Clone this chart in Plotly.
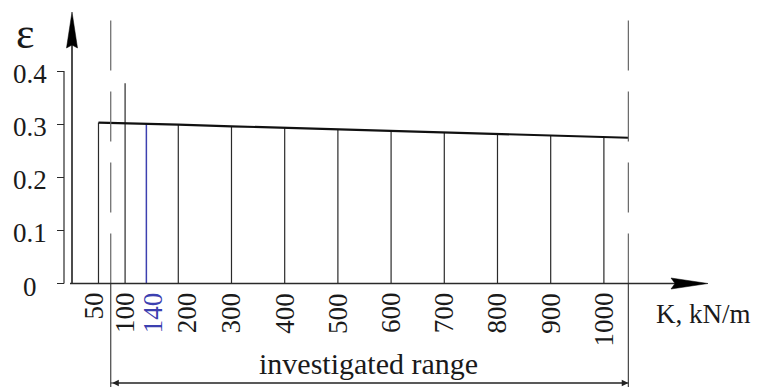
import plotly.graph_objects as go

# ---------------- data ----------------
K_vals = [50, 100, 140, 200, 300, 400, 500, 600, 700, 800, 900, 1000]
eps_vals = [0.303, 0.302, 0.301, 0.299, 0.296, 0.293, 0.290, 0.288, 0.285, 0.282, 0.279, 0.276]
K_end = 1046            # right end of the curve (upper bound of investigated range)
eps_end = 0.2745
K_highlight = 140       # blue line
K_tall = 100            # line drawn above the curve
eps_tall = 0.377
range_bounds = [73, 1046]   # investigated range borders
x_tick_labels = ["50", "100", "140", "200", "300", "400", "500", "600", "700", "800", "900", "1000"]
y_ticks = [0, 0.1, 0.2, 0.3, 0.4]
y_tick_labels = ["0", "0.1", "0.2", "0.3", "0.4"]

# ---------------- layout constants ----------------
OFF = 8                      # page body margin
W, H = 762 - OFF, 387 - OFF
X_RANGE = [-120.1, 1297.2]
Y_RANGE = [-0.1949, 0.5188]
Y_TOP_DASH = 0.509
Y_RANGE_ARROW = -0.1874
FONT = "Liberation Serif"
INK = "#1a1a1a"
BLUE = "#3c40b0"
LABEL_NUDGE = {"50": -4, "140": 7, "200": 9}   # pixel nudges of crowded tick labels


def px(x):
    return (x - OFF) / W


def py(y):
    return 1 - (y - OFF) / H


fig = go.Figure()

# vertical stems
sx, sy = [], []
for k, e in zip(K_vals, eps_vals):
    if k == K_highlight:
        continue
    top = eps_tall if k == K_tall else e
    sx += [k, k, None]
    sy += [0, top, None]
fig.add_trace(go.Scatter(x=sx, y=sy, mode="lines", line=dict(color="#2a2a2a", width=1.2),
                         hoverinfo="skip", showlegend=False))
hi = K_vals.index(K_highlight)
fig.add_trace(go.Scatter(x=[K_highlight, K_highlight], y=[0, eps_vals[hi]], mode="lines",
                         line=dict(color=BLUE, width=1.5), hoverinfo="skip", showlegend=False))

# curve
fig.add_trace(go.Scatter(x=K_vals + [K_end], y=eps_vals + [eps_end], mode="lines",
                         line=dict(color="#111111", width=2.2), hoverinfo="skip", showlegend=False))

# dashed range borders above the axis, solid below
dx, dy, bx, by = [], [], [], []
for b in range_bounds:
    dx += [b, b, None]
    dy += [0, Y_TOP_DASH, None]
    bx += [b, b, None]
    by += [0, Y_RANGE[0], None]
fig.add_trace(go.Scatter(x=dx, y=dy, mode="lines", line=dict(color="#666666", width=1.2, dash="50px,21px"),
                         hoverinfo="skip", showlegend=False))
fig.add_trace(go.Scatter(x=bx, y=by, mode="lines", line=dict(color="#444444", width=1.2),
                         hoverinfo="skip", showlegend=False))

shapes = []
# y axis line with ticks (0..0.4)
shapes.append(dict(type="line", xref="paper", yref="y", x0=px(64), x1=px(64), y0=0, y1=y_ticks[-1],
                   line=dict(color="#2a2a2a", width=1.2)))
# y arrow
shapes.append(dict(type="line", xref="paper", yref="paper", x0=px(72), x1=px(72), y0=py(284), y1=py(40),
                   line=dict(color="#111111", width=1.5)))
shapes.append(dict(type="path", xref="paper", yref="paper",
                   path=f"M {px(72)},{py(12)} L {px(77.5)},{py(48)} L {px(72)},{py(45)} L {px(66.5)},{py(48)} Z",
                   fillcolor="#000000", line=dict(color="#000000", width=0.5)))
# x axis line and arrow
shapes.append(dict(type="line", xref="paper", yref="paper", x0=px(70), x1=px(680), y0=py(283.5), y1=py(283.5),
                   line=dict(color="#2a2a2a", width=1.5)))
shapes.append(dict(type="path", xref="paper", yref="paper",
                   path=f"M {px(708)},{py(283.5)} L {px(671)},{py(278)} L {px(675)},{py(283.5)} L {px(671)},{py(289)} Z",
                   fillcolor="#000000", line=dict(color="#000000", width=0.5)))
# investigated range line
shapes.append(dict(type="line", xref="x", yref="y", x0=range_bounds[0], x1=range_bounds[1],
                   y0=Y_RANGE_ARROW, y1=Y_RANGE_ARROW, line=dict(color="#222222", width=1.2)))

annotations = [
    dict(x=range_bounds[1], y=Y_RANGE_ARROW, ax=range_bounds[0], ay=Y_RANGE_ARROW, axref="x", ayref="y",
         xref="x", yref="y", text="", showarrow=True, arrowside="end+start", arrowhead=2,
         arrowsize=1.2, arrowwidth=1.1, arrowcolor="#222222"),
    dict(x=px(368), y=py(363), xref="paper", yref="paper", text="investigated range", showarrow=False,
         xanchor="center", yanchor="middle", font=dict(family=FONT, size=30, color=INK)),
    dict(x=px(654), y=py(314), xref="paper", yref="paper", text="K, kN/m", showarrow=False,
         xanchor="left", yanchor="middle", font=dict(family=FONT, size=27, color=INK)),
    dict(x=px(25), y=py(34), xref="paper", yref="paper", text="ε", showarrow=False,
         xanchor="center", yanchor="middle", font=dict(family=FONT, size=44, color=INK)),
]

# x tick labels, rotated, placed at the K values on the x scale
for k, t in zip(K_vals, x_tick_labels):
    annotations.append(dict(
        x=k, y=0, xref="x", yref="y", text=t, showarrow=False, textangle=-90,
        xanchor="center", yanchor="top", yshift=-7, xshift=LABEL_NUDGE.get(t, 0),
        font=dict(family=FONT, size=27, color=BLUE if k == K_highlight else INK)))

# y tick labels, centred in a column left of the ticks, placed at the values on the y scale
for v, t in zip(y_ticks, y_tick_labels):
    annotations.append(dict(
        x=px(30), y=v, xref="paper", yref="y", text=t, showarrow=False,
        xanchor="center", yanchor="middle", yshift=-3,
        font=dict(family=FONT, size=27, color=INK)))

fig.update_layout(
    template="none",
    width=W, height=H,
    margin=dict(l=0, r=0, t=0, b=0, pad=0),
    paper_bgcolor="white", plot_bgcolor="white",
    showlegend=False,
    shapes=shapes,
    annotations=annotations,
    xaxis=dict(range=X_RANGE, showline=False, showgrid=False, zeroline=False, showticklabels=False,
               ticks="", automargin=False, fixedrange=True),
    yaxis=dict(range=Y_RANGE, anchor="free", position=px(64), showline=False, showgrid=False,
               zeroline=False, ticks="outside", ticklen=7, tickwidth=1.2, tickcolor="#2a2a2a",
               tickvals=y_ticks, showticklabels=False,
               automargin=False, fixedrange=True),
)

fig.write_html("out.html")
